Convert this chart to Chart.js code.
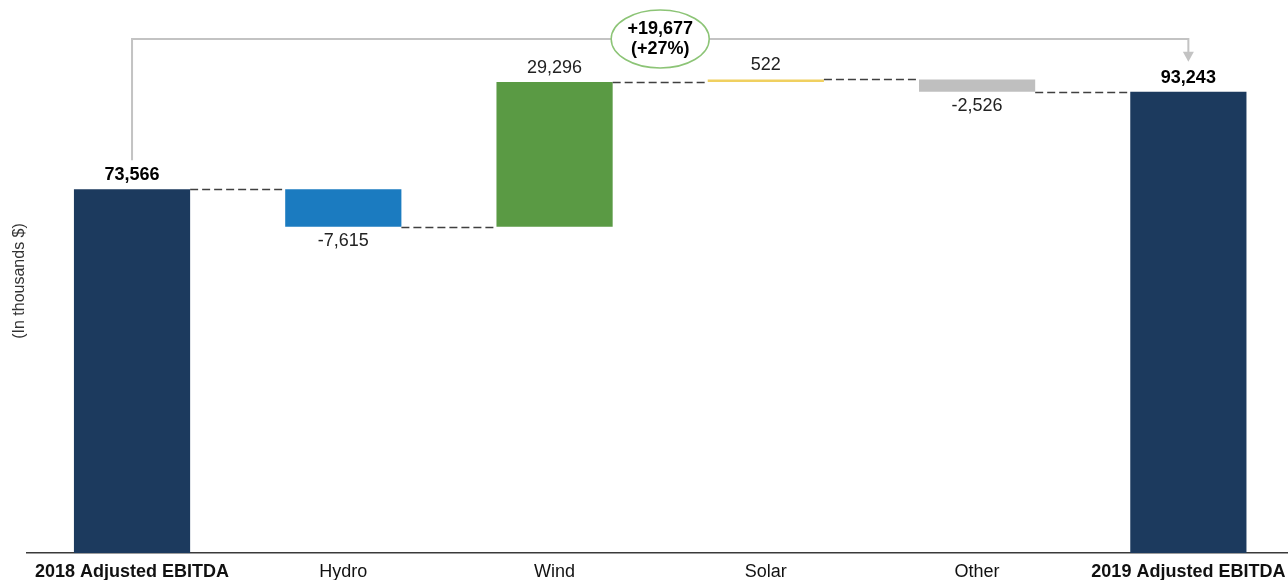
<!DOCTYPE html>
<html>
<head>
<meta charset="utf-8">
<script src="https://cdn.jsdelivr.net/npm/chart.js@4.4.0/dist/chart.umd.min.js"></script>
<style>
  html, body { margin: 0; padding: 0; background: #fff; overflow: hidden; }
  #wrap { width: 1294px; height: 580px; }
</style>
</head>
<body>
<div id="wrap"><canvas id="c" width="1294" height="580"></canvas></div>
<script>
// ---- data ----
const categories = ['2018 Adjusted EBITDA', 'Hydro', 'Wind', 'Solar', 'Other', '2019 Adjusted EBITDA'];
const values = [73566, -7615, 29296, 522, -2526, 93243];
const isTotal = [true, false, false, false, false, true];
const yAxisTitle = '(In thousands $)';

// ---- styles ----
const barColors = ['#1c3a5e', '#1b7bc0', '#5a9a44', '#f0d060', '#bfbfbf', '#1c3a5e'];
const FONT = '"Liberation Sans", Arial, sans-serif';

// floating ranges for the waterfall
let run = 0;
const floats = values.map((v, i) => {
  if (isTotal[i]) { run = v; return [0, v]; }
  const s = run; run += v; return [s, run];
});
const levels = floats.map(f => f[1]);

function fmt(v) {
  const s = Math.abs(v).toLocaleString('en-US');
  return (v < 0 ? '-' : '') + s;
}

const overlay = {
  id: 'overlay',
  afterDatasetsDraw(chart) {
    const ctx = chart.ctx;
    const meta = chart.getDatasetMeta(0);
    const ys = chart.scales.y;
    const area = chart.chartArea;
    ctx.save();
    // connectors
    ctx.setLineDash([8, 4]);
    ctx.strokeStyle = '#404040';
    ctx.lineWidth = 1.5;
    for (let i = 0; i < meta.data.length - 1; i++) {
      const a = meta.data[i], b = meta.data[i + 1];
      const ly = Math.round(ys.getPixelForValue(levels[i])) + 0.5;
      ctx.beginPath();
      ctx.moveTo(a.x + a.width / 2, ly);
      ctx.lineTo(b.x - b.width / 2, ly);
      ctx.stroke();
    }
    ctx.setLineDash([]);
    // value labels
    ctx.textAlign = 'center';
    ctx.textBaseline = 'middle';
    meta.data.forEach((el, i) => {
      const top = Math.min(el.y, el.base), bottom = Math.max(el.y, el.base);
      ctx.font = (isTotal[i] ? 'bold ' : '') + '18px ' + FONT;
      ctx.fillStyle = isTotal[i] ? '#000' : '#222';
      if (values[i] >= 0) ctx.fillText(fmt(values[i]), el.x, top - 14);
      else ctx.fillText(fmt(values[i]), el.x, bottom + 14);
    });
    // bracket
    const first = meta.data[0], last = meta.data[meta.data.length - 1];
    const x0 = first.x, x1 = last.x;
    const yTop = area.top + 30;
    const y0 = Math.min(first.y, first.base) - 29;
    const tip = Math.min(last.y, last.base) - 30;
    ctx.strokeStyle = '#c3c3c3';
    ctx.lineWidth = 2;
    ctx.beginPath();
    ctx.moveTo(x0, y0);
    ctx.lineTo(x0, yTop);
    ctx.lineTo(x1, yTop);
    ctx.lineTo(x1, tip - 9);
    ctx.stroke();
    ctx.fillStyle = '#c3c3c3';
    ctx.beginPath();
    ctx.moveTo(x1 - 5.5, tip - 10);
    ctx.lineTo(x1 + 5.5, tip - 10);
    ctx.lineTo(x1, tip);
    ctx.closePath();
    ctx.fill();
    // ellipse
    const cx = (x0 + x1) / 2;
    ctx.beginPath();
    ctx.ellipse(cx, yTop, 49, 29, 0, 0, Math.PI * 2);
    ctx.fillStyle = '#fff';
    ctx.fill();
    ctx.strokeStyle = '#8cc476';
    ctx.lineWidth = 1.5;
    ctx.stroke();
    const delta = values[values.length - 1] - values[0];
    const pct = Math.round(delta / values[0] * 100);
    ctx.fillStyle = '#000';
    ctx.font = 'bold 18px ' + FONT;
    ctx.fillText((delta >= 0 ? '+' : '') + fmt(delta), cx, yTop - 10);
    ctx.fillText('(' + (pct >= 0 ? '+' : '') + pct + '%)', cx, yTop + 10);
    ctx.restore();
  }
};

new Chart(document.getElementById('c'), {
  type: 'bar',
  data: {
    labels: categories,
    datasets: [{
      data: floats,
      backgroundColor: barColors,
      borderWidth: 0,
      borderSkipped: false,
      barPercentage: 0.55,
      categoryPercentage: 1
    }]
  },
  options: {
    responsive: false,
    animation: false,
    devicePixelRatio: 1,
    layout: { padding: { top: 9, left: 0, right: 0, bottom: 0 } },
    plugins: { legend: { display: false }, tooltip: { enabled: false }, title: { display: false } },
    scales: {
      x: {
        grid: { display: false, drawTicks: false },
        border: { display: true, color: '#3a3a3a', width: 1.5 },
        ticks: {
          padding: 8,
          maxRotation: 0,
          autoSkip: false,
          color: '#111',
          font: (c) => ({ family: FONT, size: 18, weight: (c.index === 0 || c.index === categories.length - 1) ? 'bold' : 'normal' })
        },
        afterFit: (s) => { s.height = 27; }
      },
      y: {
        min: 0,
        max: 110000,
        grid: { display: false },
        border: { display: false },
        ticks: { display: false },
        title: { display: true, text: yAxisTitle, color: '#333', font: { family: FONT, size: 16 }, padding: { top: 10, bottom: 0 } },
        afterFit: (s) => { s.width = 26.4; }
      }
    }
  },
  plugins: [overlay]
});
</script>
</body>
</html>
